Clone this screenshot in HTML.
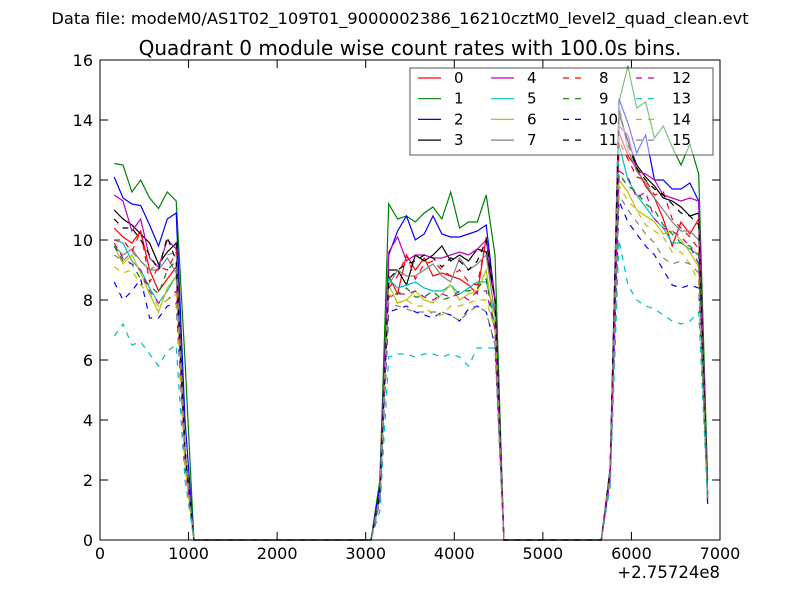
<!DOCTYPE html>
<html><head><meta charset="utf-8"><style>
html,body{margin:0;padding:0;background:#fff}
svg{display:block;font-family:"DejaVu Sans","Liberation Sans",sans-serif}
</style></head><body>
<svg id="chart" width="800" height="600" viewBox="0 0 800 600">
<rect width="800" height="600" fill="#fff"/>
<text x="400" y="24" font-size="16.3" text-anchor="middle">Data file: modeM0/AS1T02_109T01_9000002386_16210cztM0_level2_quad_clean.evt</text>
<text x="410" y="55" font-size="20" text-anchor="middle">Quadrant 0 module wise count rates with 100.0s bins.</text>
<g id="plot"></g>
<g id="axes"></g>
<g id="legend"></g>
</svg>
<script>
const xTicks=[0,1000,2000,3000,4000,5000,6000,7000];
const yTicks=[0,2,4,6,8,10,12,14,16];
const xOffsetLabel="+2.75724e8";
const seriesNames=["0","1","2","3","4","5","6","7","8","9","10","11","12","13","14","15"];
const t0=60, dt=100, nPts=68;
const seg1Start=1, seg2Start=31, seg3Start=57;
const seg1=[
[10.4,10.1,9.9,10.3,9,8.3,8.7,9.1,3],
[12.55,12.5,11.6,12,11.4,11.05,11.6,11.3,6],
[12.1,11.4,11.2,11.15,10.5,9.8,10.7,10.9,4],
[11,10.7,10.5,10.2,9.9,9.2,9.6,9.9,3],
[11.5,11.3,10.3,10.7,9.4,9.1,10,9.7,3],
[10,9.9,9.3,9,8.4,7.9,8.3,8.8,3],
[9.8,9.2,9.5,8.9,8.2,7.6,8.4,8.8,2.5],
[9.8,9.5,9.7,9.3,9,9,9.4,8.9,3],
[10,10,9.6,10.3,8.6,9.1,9,9.6,3],
[9.8,9.3,9.2,8.7,8.5,8.2,9,9.3,3],
[8.6,8,8.3,8.7,7.4,7.4,7.8,7.9,2.5],
[10.7,10.4,10.4,10,9.5,9,10.1,9.3,3],
[9.9,9.4,9.2,9,8.3,7.9,8,8.3,2.5],
[6.8,7.2,6.5,6.6,6.2,5.8,6.3,6.5,2],
[9.1,8.9,9,8.5,8.2,7.8,8,8.2,2.5],
[9.5,9.3,9.6,9.3,9,9.2,9.5,9.6,3]];
const seg2=[
[1.5,8.8,8.2,9.5,9,9.4,8.8,8.9,8.8,8.7,8.5,8.2,10.1,8],
[2,11.2,10.7,10.8,10.6,10.9,11.1,10.7,11.6,10.4,10.6,10.6,11.5,9.5],
[1.8,9.5,10.3,10.8,10,10.2,10.8,10.2,10.1,10.1,10.2,10.3,10.5,8],
[1.5,9,9,8.5,9.5,9.3,9.5,9.8,9.3,9.5,9.3,9.7,9.6,8],
[1.5,9.6,10.1,9.3,9.5,9.5,9.4,9.4,9.5,9.6,9.5,9.7,10,8],
[1.5,8.7,8.4,8.5,8.6,8.4,8.3,8.3,8.5,8.2,8.4,8.6,8.6,7.5],
[1.4,8.5,7.9,8,8.3,8,7.9,8.2,8.5,8,8.2,8.3,9,7],
[1.5,8.5,9,8.8,8.8,9,9.2,8.8,8.6,9.4,9,9.2,9.5,7.5],
[1.5,8.4,8.8,9.5,8.7,9.2,9.3,9,8.8,9,8.6,8.5,10,8],
[1.4,8.2,8.2,8.4,8.1,8.1,8.3,8,8.1,8.3,8.3,8.4,8.7,7],
[1.3,7.6,7.7,7.8,7.6,7.5,7.4,7.6,7.5,7.3,7.7,7.8,7.6,6.5],
[1.5,8.7,9,9.2,9.3,9.5,9.4,9.1,9.4,9.3,9,9.3,10,8],
[1.4,8.1,8.2,8.2,8.3,8.1,8,8.2,8.1,8.2,8,8.3,8.3,7],
[1,6.1,6.2,6.2,6.1,6.2,6.2,6.1,6.2,6.1,5.8,6.4,6.4,6.4],
[1.4,8.2,7.9,8,7.8,7.8,7.5,7.5,7.8,7.8,7.9,8,8,7],
[1.3,7.9,7.8,7.7,7.6,7.6,7.6,7.6,7.5,7.3,7.6,7.8,7.6,6.5]];
const seg3=[
[2.2,13.6,12.8,12.4,11.8,11.4,10.7,9.8,10.6,10.2,10.7,1.5],
[2.4,14.6,15.8,14.4,14.6,13.4,13.8,13.1,12.5,13.2,12.2,2],
[2.4,14.7,13.9,12.9,13.5,12,12,11.7,11.7,11.9,11.3,1.2],
[2.3,14.2,13.3,12.5,12.1,11.8,11.4,11.3,11.1,10.8,10.9,1.5],
[2.3,13.8,13.5,12.3,12.2,12,11.5,11.4,11.3,11.4,11.3,1.5],
[2.2,13.2,12,11.5,11.1,10.7,10.4,9.9,9.9,9.7,9.5,1.4],
[2.1,12,11.6,11,10.8,10.6,10.2,10.3,10,9.6,9.1,1.4],
[2.3,14.5,13,12.3,11.9,11.4,11,10.6,10.3,10.3,10,1.5],
[2.2,13.3,12.7,12.1,12,11.5,11.6,10.7,10.4,10.1,9.7,1.5],
[2.1,12.2,11.8,11.6,11.2,11,10.5,10.2,9.9,9.8,9.5,1.4],
[2,11.3,10.6,10.2,9.8,9.5,9,8.5,8.4,8.5,8.4,1.3],
[2.3,14.3,13.2,12.4,12,11.7,11.5,11.2,10.9,10.8,10.5,1.5],
[2.1,12.3,12.1,11.4,11.6,10.7,10.4,10.3,10.1,9.8,9.2,1.4],
[1.8,10,8.5,8,7.8,7.7,7.5,7.3,7.2,7.3,7.6,1.3],
[2.1,11.8,11.3,11,10.5,10.3,10.1,9.6,9.6,9.2,8.6,1.4],
[2,11.5,11,10.6,10.2,9.9,9.4,9.2,9.3,9.2,8.9,1.4]];

const colors=["#ff0000","#008000","#0000ff","#000000","#bf00bf","#00bfbf","#bfbf00","#808080"];
const L=100,R=720,T=60,B=540;
const xs=v=>L+(v-0)/(7000-0)*(R-L);
const ys=v=>B-(v-0)/(16-0)*(B-T);
const NS="http://www.w3.org/2000/svg";
function mk(tag,attrs,parent){const e=document.createElementNS(NS,tag);for(const k in attrs)e.setAttribute(k,attrs[k]);parent.appendChild(e);return e;}
const plot=document.getElementById('plot');
mk('rect',{x:L,y:T,width:R-L,height:B-T,fill:'#fff'},plot);
for(let s=0;s<16;s++){
  const vals=new Array(nPts+1).fill(0);
  seg1[s].forEach((v,i)=>vals[seg1Start+i]=v);
  seg2[s].forEach((v,i)=>vals[seg2Start+i]=v);
  seg3[s].forEach((v,i)=>vals[seg3Start+i]=v);
  let d="";
  for(let k=1;k<=nPts;k++){d+=(k===1?"M":"L")+xs(t0+k*dt).toFixed(1)+","+ys(vals[k]).toFixed(1);}
  const p=mk('path',{d:d,fill:'none',stroke:colors[s%8],'stroke-width':1.2},plot);
  if(s>=8)p.setAttribute('stroke-dasharray','6,6');
  
  
}
const axes=document.getElementById('axes');
mk('rect',{x:L,y:T,width:R-L,height:B-T,fill:'none',stroke:'#000','stroke-width':1},axes);
xTicks.forEach(v=>{const x=xs(v);
  mk('line',{x1:x,y1:B,x2:x,y2:B-8,stroke:'#000'},axes);
  mk('line',{x1:x,y1:T,x2:x,y2:T+8,stroke:'#000'},axes);
  const t=mk('text',{x:x,y:B+19,'font-size':16,'text-anchor':'middle'},axes);t.textContent=v;
  
  
});
yTicks.forEach(v=>{const y=ys(v);
  mk('line',{x1:L,y1:y,x2:L+8,y2:y,stroke:'#000'},axes);
  mk('line',{x1:R,y1:y,x2:R-8,y2:y,stroke:'#000'},axes);
  const t=mk('text',{x:L-7,y:y+6,'font-size':16,'text-anchor':'end'},axes);t.textContent=v;
  
  
});
const off=mk('text',{x:R,y:578,'font-size':16.5,'text-anchor':'end'},axes);off.textContent=xOffsetLabel;


const lg=document.getElementById('legend');
mk('rect',{x:410,y:68,width:303,height:87,fill:'#fff','fill-opacity':0.5,stroke:'#555','stroke-width':1},lg);
const colX=[418,491,563,636];
for(let s=0;s<16;s++){
  const c=Math.floor(s/4),r=s%4;const x=colX[c],y=78+r*20.7;
  const ln=mk('line',{x1:x,y1:y,x2:x+23,y2:y,stroke:colors[s%8],'stroke-width':1.2},lg);
  if(s>=8)ln.setAttribute('stroke-dasharray','6,6');
  const t=mk('text',{x:x+36,y:y+5,'font-size':15},lg);t.textContent=seriesNames[s];
  
  
}
</script>
</body></html>
